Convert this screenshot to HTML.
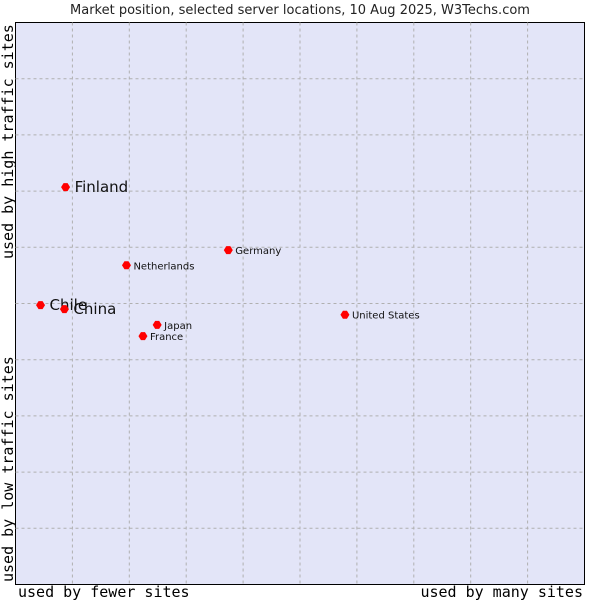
<!DOCTYPE html>
<html><head><meta charset="utf-8"><style>
body{margin:0;background:#fff;width:600px;height:600px;overflow:hidden}
svg text{font-family:"DejaVu Sans","Liberation Sans",sans-serif}
.mono{font-family:"DejaVu Sans Mono","Liberation Mono",monospace}
</style></head><body>
<svg id="chart" width="600" height="600">
<text x="300" y="14" text-anchor="middle" font-size="13" fill="#222">Market position, selected server locations, 10 Aug 2025, W3Techs.com</text>
<rect x="15.5" y="22.5" width="569" height="562" fill="#e3e5f8" stroke="#000"/>
<g id="grid"></g>
<g id="points"></g>
<text class="mono" x="18" y="597" font-size="15" fill="#000">used by fewer sites</text>
<text class="mono" x="583" y="597" font-size="15" text-anchor="end" fill="#000">used by many sites</text>
<text class="mono" transform="translate(13,259) rotate(-90)" font-size="15" fill="#000">used by high traffic sites</text>
<text class="mono" transform="translate(13,582) rotate(-90)" font-size="15" fill="#000">used by low traffic sites</text>
</svg>
<script>
const countries=["Finland","Chile","China","Netherlands","Germany","Japan","France","United States"];
const xVals=[8.8,4.4,8.6,19.5,37.4,24.9,22.4,57.9];
const yVals=[70.7,49.7,49.0,56.8,59.5,46.2,44.2,48.0];
const labelSizes=[15,15,15,10,10,10,10,10];
const L=15.5,T=22.5,W=569,H=562;
const xs=v=>L+v/100*W, ys=v=>T+H-v/100*H;
const ns="http://www.w3.org/2000/svg";
const grid=document.getElementById('grid'),pts=document.getElementById('points');
for(let i=1;i<10;i++){
 const vx=document.createElementNS(ns,'line');
 vx.setAttribute('x1',xs(i*10));vx.setAttribute('x2',xs(i*10));vx.setAttribute('y1',T);vx.setAttribute('y2',T+H);
 vx.setAttribute('stroke','#b0b0b0');vx.setAttribute('stroke-dasharray','3,3');
 
 
 grid.appendChild(vx);
 const hy=document.createElementNS(ns,'line');
 hy.setAttribute('y1',ys(i*10));hy.setAttribute('y2',ys(i*10));hy.setAttribute('x1',L);hy.setAttribute('x2',L+W);
 hy.setAttribute('stroke','#b0b0b0');hy.setAttribute('stroke-dasharray','3,3');
 
 
 grid.appendChild(hy);
}
countries.forEach((c,i)=>{
 const x=xs(xVals[i]),y=ys(yVals[i]);
 const d=document.createElementNS(ns,'path');
 d.setAttribute('d',`M${x-4.5},${y}L${x-2},${y-4}L${x+2},${y-4}L${x+4.5},${y}L${x+2},${y+4}L${x-2},${y+4}Z`);
 d.setAttribute('fill','#ff0000');
 
 
 pts.appendChild(d);
 const t=document.createElementNS(ns,'text');
 const s=labelSizes[i];
 t.setAttribute('x',x+(s>12?9:7));t.setAttribute('y',y+(s>12?5:4));
 t.setAttribute('font-size',s);t.setAttribute('fill','#111');
 t.textContent=c;
 
 
 pts.appendChild(t);
});
</script>
</body></html>
